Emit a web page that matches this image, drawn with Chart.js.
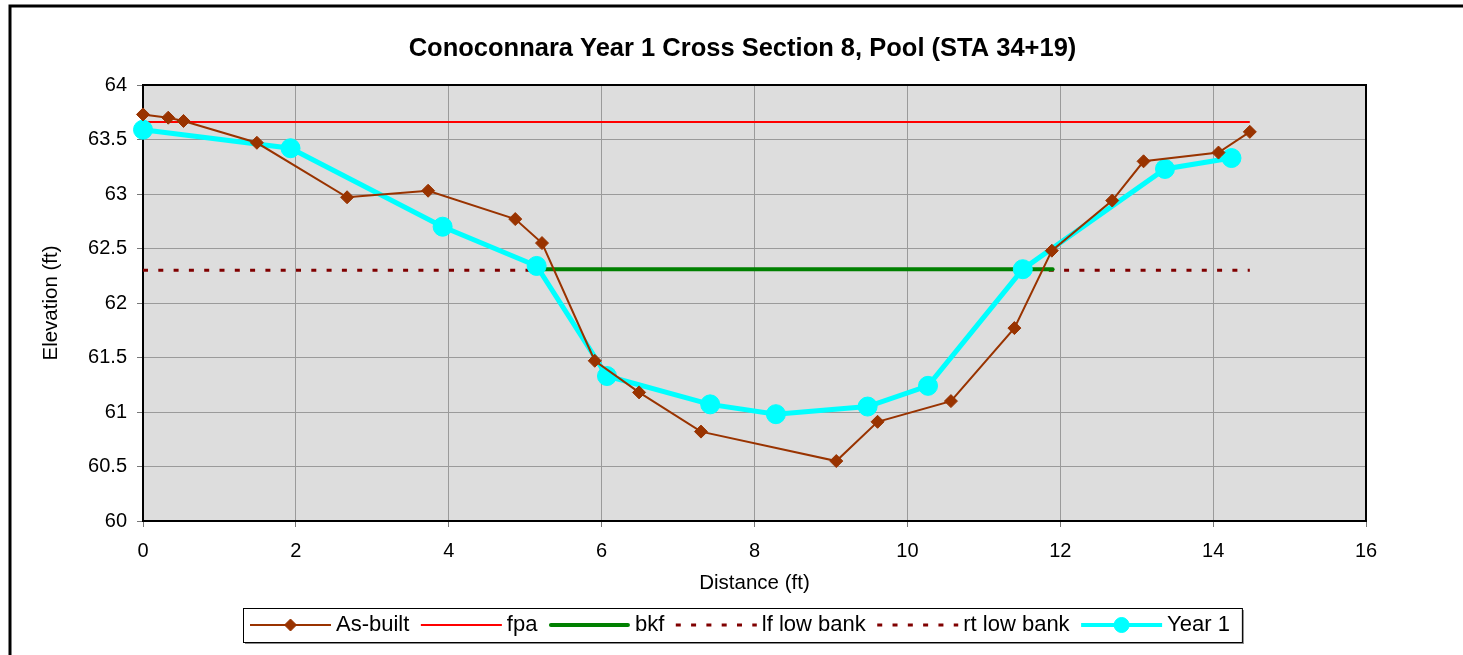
<!DOCTYPE html>
<html>
<head>
<meta charset="utf-8">
<title>Conoconnara Year 1 Cross Section 8</title>
<script src="https://cdn.jsdelivr.net/npm/chart.js@4.4.0/dist/chart.umd.min.js"></script>
<style>
  html, body { margin: 0; padding: 0; background: #fff; }
  #wrap { width: 1463px; height: 655px; }
</style>
</head>
<body>
<div id="wrap"><canvas id="xsec" width="1463" height="655"></canvas></div>
<script>
// survey points, distance (ft) and elevation (ft)
const asBuiltDist = [0, 0.33, 0.53, 1.49, 2.67, 3.73, 4.87, 5.22, 5.91, 6.49, 7.30, 9.07, 9.61, 10.57, 11.40, 11.89, 12.68, 13.09, 14.07, 14.48];
const asBuiltElev = [63.73, 63.70, 63.67, 63.47, 62.97, 63.03, 62.77, 62.55, 61.47, 61.18, 60.82, 60.55, 60.91, 61.10, 61.77, 62.48, 62.94, 63.30, 63.38, 63.57];

const year1Dist = [0, 1.93, 3.92, 5.15, 6.07, 7.42, 8.28, 9.48, 10.27, 11.51, 13.37, 14.24];
const year1Elev = [63.59, 63.42, 62.70, 62.34, 61.33, 61.07, 60.98, 61.05, 61.24, 62.31, 63.23, 63.33];

// reference elevations
const fpaDist = [0, 14.48];
const fpaElev = [63.66, 63.66];
const bkfDist = [5.24, 11.9];
const bkfElev = [62.31, 62.31];
const lfBankDist = [0, 5.24];
const lfBankElev = [62.3, 62.3];
const rtBankDist = [11.85, 14.48];
const rtBankElev = [62.3, 62.3];

// axis limits: min, max, step
const distAxis = [0, 16, 2];
const elevAxis = [60, 64, 0.5];

const chartTitle = 'Conoconnara Year 1 Cross Section 8, Pool (STA 34+19)';

const FONT = '"Liberation Sans", Arial, Helvetica, sans-serif';
Chart.defaults.font.family = FONT;
Chart.defaults.color = '#000';

const pts = (xs, ys) => xs.map((x, i) => ({ x: x, y: ys[i] }));

// white page, outer frame, title and grey plot area
const backdrop = {
  id: 'backdrop',
  beforeDraw(chart) {
    const { ctx, chartArea: a } = chart;
    ctx.save();
    ctx.fillStyle = '#fff';
    ctx.fillRect(0, 0, chart.width, chart.height);
    ctx.strokeStyle = '#000';
    ctx.lineWidth = 3;
    ctx.strokeRect(10, 6, chart.width + 40, chart.height + 40);

    ctx.fillStyle = '#dddddd';
    ctx.fillRect(a.left, a.top, a.right - a.left, a.bottom - a.top);

    ctx.fillStyle = '#000';
    ctx.font = 'bold 25.5px ' + FONT;
    ctx.textAlign = 'center';
    ctx.textBaseline = 'middle';
    ctx.fillText(chartTitle, 742.5, 48.5);
    ctx.restore();
  },
  beforeDatasetsDraw(chart) {
    const { ctx, chartArea: a } = chart;
    ctx.save();
    ctx.strokeStyle = '#000';
    ctx.lineWidth = 2;
    ctx.strokeRect(a.left, a.top, a.right - a.left, a.bottom - a.top);
    ctx.restore();
  }
};

// boxed legend with line samples
const lineLegend = {
  id: 'lineLegend',
  afterDraw(chart) {
    const ctx = chart.ctx;
    const sets = chart.data.datasets;
    const sampleW = 81, textGap = 5, itemGap = 11.5, padL = 7, padR = 12;
    ctx.save();
    ctx.font = '22px ' + FONT;
    const widths = sets.map(ds => ctx.measureText(ds.label).width);
    let total = padL + padR + (sets.length - 1) * itemGap;
    widths.forEach(w => { total += sampleW + textGap + w; });

    const top = 608, h = 34;
    const left = Math.round(742.5 - total / 2);
    ctx.fillStyle = '#8a8a8a';
    ctx.fillRect(left + 2, top + 2, total, h);
    ctx.fillStyle = '#fff';
    ctx.fillRect(left, top, total, h);
    ctx.strokeStyle = '#000';
    ctx.lineWidth = 1;
    ctx.strokeRect(left + 0.5, top + 0.5, total, h);

    const y = top + h / 2;
    let x = left + padL;
    sets.forEach((ds, i) => {
      ctx.strokeStyle = ds.borderColor;
      ctx.lineWidth = ds.legendWidth;
      ctx.lineCap = ds.label === 'bkf' ? 'round' : 'butt';
      ctx.setLineDash(ds.borderDash || []);
      ctx.beginPath();
      ctx.moveTo(x + (ds.label === 'bkf' ? 2 : 0), y);
      ctx.lineTo(x + sampleW - (ds.label === 'bkf' ? 2 : 0), y);
      ctx.stroke();
      ctx.setLineDash([]);
      if (ds.pointRadius > 0) {
        ctx.fillStyle = ds.backgroundColor;
        ctx.lineWidth = 1;
        Chart.helpers.drawPoint(ctx, {
          pointStyle: ds.pointStyle,
          radius: ds.pointStyle === 'circle' ? 7.5 : 6,
          borderWidth: 1,
          rotation: 0
        }, x + sampleW / 2, y);
      }
      ctx.fillStyle = '#000';
      ctx.textAlign = 'left';
      ctx.textBaseline = 'middle';
      ctx.fillText(ds.label, x + sampleW + textGap, y);
      x += sampleW + textGap + widths[i] + itemGap;
    });
    ctx.restore();
  }
};

const ctx = document.getElementById('xsec').getContext('2d');
new Chart(ctx, {
  type: 'scatter',
  data: {
    datasets: [
      {
        label: 'As-built',
        data: pts(asBuiltDist, asBuiltElev),
        showLine: true,
        borderColor: '#993300',
        backgroundColor: '#993300',
        borderWidth: 2,
        legendWidth: 2,
        pointStyle: 'rectRot',
        pointRadius: 6.5,
        pointBorderWidth: 1,
        clip: false,
        order: 0
      },
      {
        label: 'fpa',
        data: pts(fpaDist, fpaElev),
        showLine: true,
        borderColor: '#ff0000',
        backgroundColor: '#ff0000',
        borderWidth: 2,
        legendWidth: 2,
        pointRadius: 0,
        order: 3
      },
      {
        label: 'bkf',
        data: pts(bkfDist, bkfElev),
        showLine: true,
        borderColor: '#008000',
        backgroundColor: '#008000',
        borderWidth: 4,
        borderCapStyle: 'round',
        legendWidth: 4,
        pointRadius: 0,
        order: 2
      },
      {
        label: 'lf low bank',
        data: pts(lfBankDist, lfBankElev),
        showLine: true,
        borderColor: '#800000',
        backgroundColor: '#800000',
        borderWidth: 3,
        borderDash: [5, 10.3],
        legendWidth: 3,
        pointRadius: 0,
        order: 4
      },
      {
        label: 'rt low bank',
        data: pts(rtBankDist, rtBankElev),
        showLine: true,
        borderColor: '#800000',
        backgroundColor: '#800000',
        borderWidth: 3,
        borderDash: [5, 10.3],
        legendWidth: 3,
        pointRadius: 0,
        order: 4
      },
      {
        label: 'Year 1',
        data: pts(year1Dist, year1Elev),
        showLine: true,
        borderColor: '#00ffff',
        backgroundColor: '#00ffff',
        borderWidth: 5,
        legendWidth: 4,
        pointStyle: 'circle',
        pointRadius: 9.5,
        pointBorderWidth: 1,
        clip: false,
        order: 1
      }
    ]
  },
  options: {
    responsive: false,
    devicePixelRatio: 1,
    animation: false,
    events: [],
    layout: { padding: { top: 85, right: 97, bottom: 55, left: 0 } },
    plugins: {
      legend: { display: false },
      title: { display: false },
      tooltip: { enabled: false }
    },
    scales: {
      x: {
        type: 'linear',
        min: distAxis[0],
        max: distAxis[1],
        afterFit: (scale) => { scale.height = 79; },
        ticks: { stepSize: distAxis[2], padding: 12, font: { size: 20 }, callback: (v) => String(v) },
        grid: { color: '#9a9a9a', lineWidth: 1, tickLength: 6, tickColor: '#777' },
        border: { display: false },
        title: { display: true, text: 'Distance (ft)', font: { size: 20.5 }, padding: { top: 0, bottom: 4 } }
      },
      y: {
        type: 'linear',
        min: elevAxis[0],
        max: elevAxis[1],
        afterFit: (scale) => { scale.width = 143; },
        ticks: { stepSize: elevAxis[2], padding: 10, font: { size: 20 }, callback: (v) => String(v) },
        grid: { color: '#9a9a9a', lineWidth: 1, tickLength: 6, tickColor: '#777' },
        border: { display: false },
        title: { display: true, text: 'Elevation (ft)', font: { size: 20.5 }, padding: { top: 39, bottom: 0 } }
      }
    }
  },
  plugins: [backdrop, lineLegend]
});
</script>
</body>
</html>
